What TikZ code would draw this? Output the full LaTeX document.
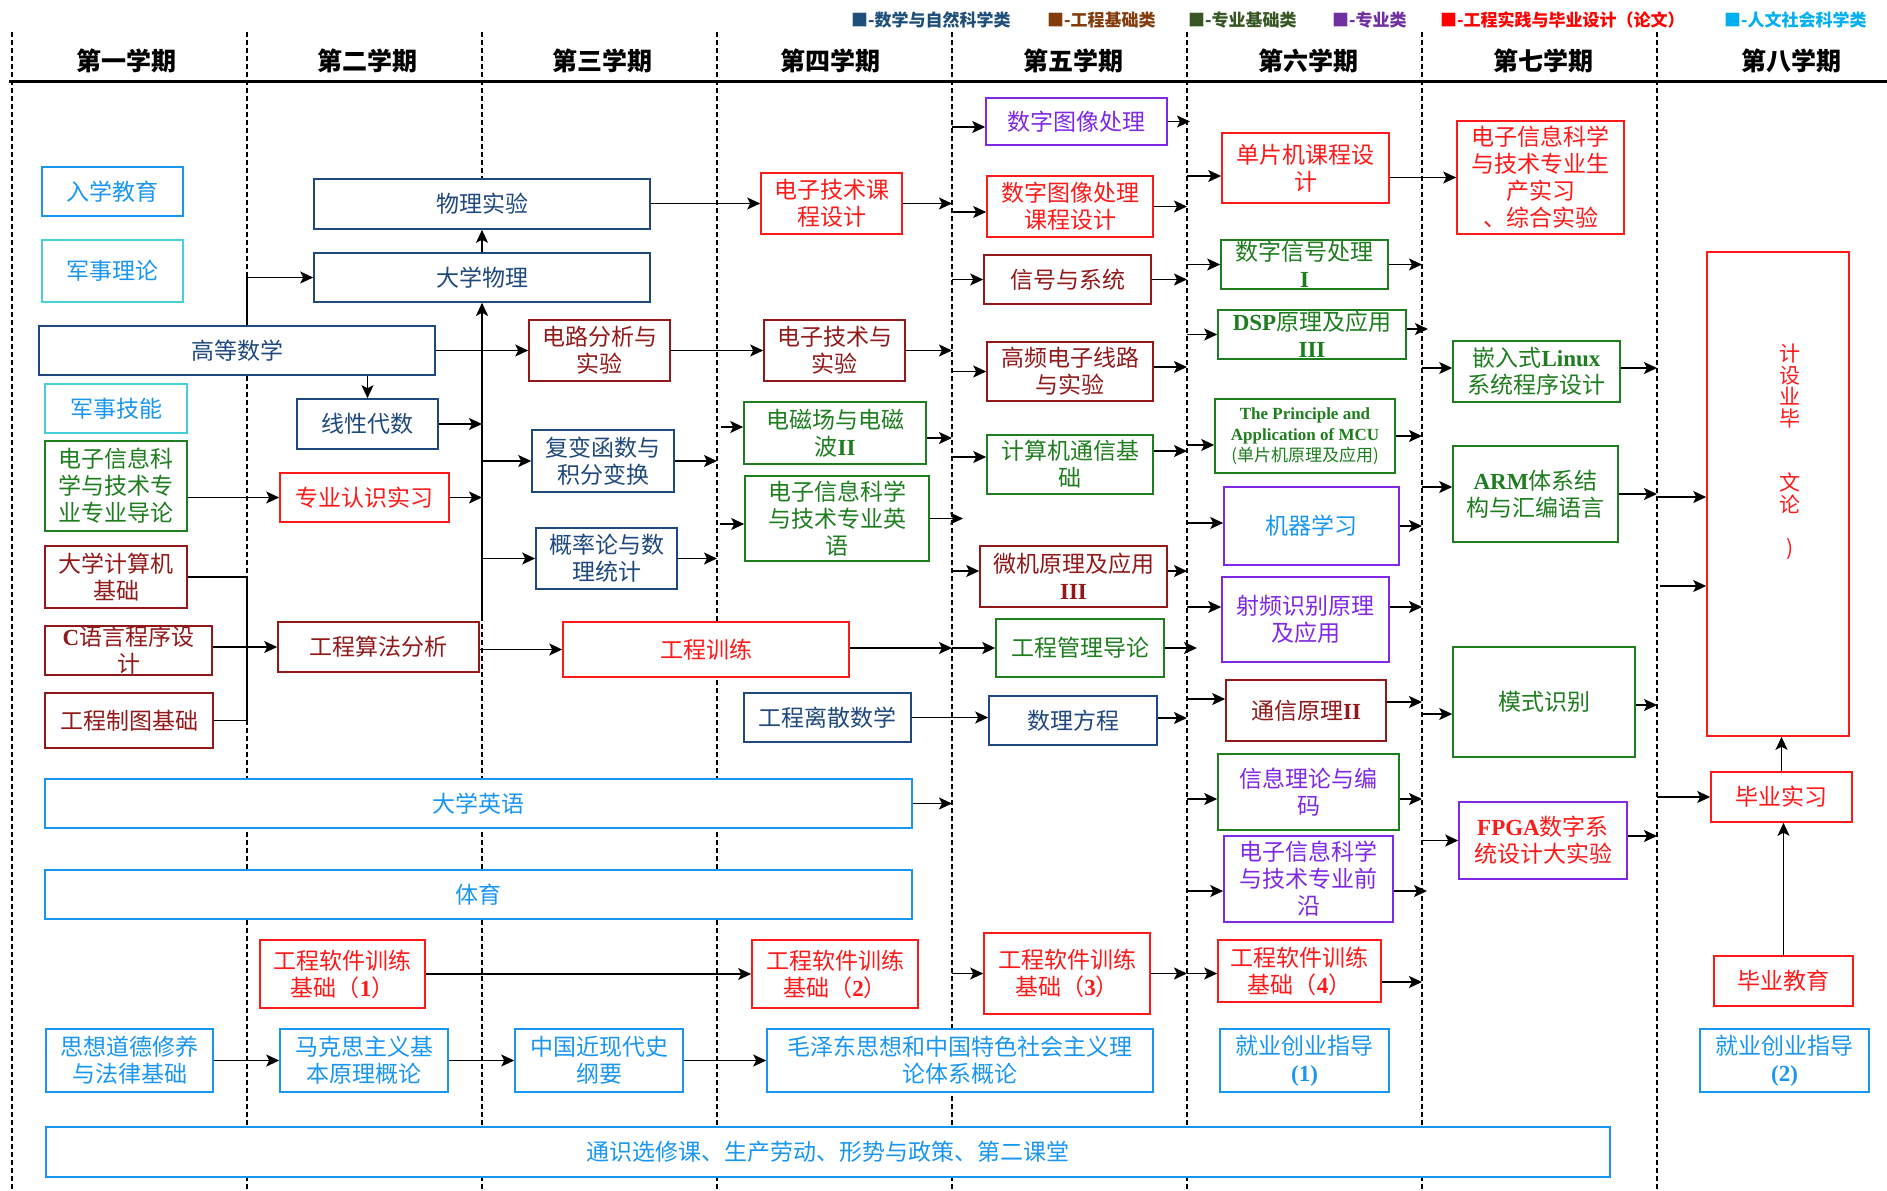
\documentclass[tikz,border=0pt]{standalone}
\usepackage{fontspec}
\setmainfont{Liberation Serif}
\newfontfamily\cjk{Noto Sans CJK SC}
\usetikzlibrary{arrows.meta,calc}
\definecolor{cMath}{RGB}{31,73,125}
\definecolor{cEng}{RGB}{145,25,25}
\definecolor{cGrn}{RGB}{30,125,30}
\definecolor{cPur}{RGB}{128,40,230}
\definecolor{cRed}{RGB}{255,25,25}
\definecolor{cHum}{RGB}{25,150,240}
\definecolor{cMil}{RGB}{70,208,215}
\definecolor{lgMath}{RGB}{31,78,121}
\definecolor{lgEng}{RGB}{132,60,12}
\definecolor{lgGrn}{RGB}{55,86,35}
\definecolor{lgPur}{RGB}{112,48,160}
\definecolor{lgRed}{RGB}{255,0,0}
\definecolor{lgHum}{RGB}{0,176,240}
\newcommand\LB[1]{{\rmfamily\bfseries #1}}
\tikzset{
  box/.style={draw, fill=white, line width=1.6pt, inner sep=0pt, align=center,
    font=\cjk\fontsize{23}{27}\selectfont},
  mth/.style={draw=cMath, text=cMath},
  eng/.style={draw=cEng, text=cEng},
  grn/.style={draw=cGrn, text=cGrn},
  pur/.style={draw=cPur, text=cPur},
  red/.style={draw=cRed, text=cRed},
  hum/.style={draw=cHum, text=cHum},
  mil/.style={draw=cMil, text=cHum},
  arr/.style={line width=1.6pt, -{Stealth[length=13pt,width=12pt,inset=3pt]}},
  ln/.style={line width=1.6pt},
  sepline/.style={line width=2.4pt, dash pattern=on 5pt off 3pt},
  hdr/.style={font=\cjk\bfseries\fontsize{25}{28}\selectfont, inner sep=0pt},
  lgd/.style={font=\cjk\bfseries\fontsize{17}{20}\selectfont, inner sep=0pt, anchor=west},
}
\newcommand\bx[7]{\node[box,#2,minimum width={#5-#3},minimum height={#6-#4}] (#1) at ({(#3+#5)/2},{(#4+#6)/2}) {#7};}
\newcommand\inarr[4]{\path ($(#1.west)+(0,#3)$) coordinate (tmpa); \draw[arr] ($(tmpa -| #2)+(#4,0)$) -- (tmpa);}
\newcommand\outarr[4]{\path ($(#1.east)+(0,#3)$) coordinate (tmpb); \draw[arr] (tmpb) -- ($(tmpb -| #2)+(#4,0)$);}
\begin{document}
\begin{tikzpicture}[x=1pt,y=-1pt]
\useasboundingbox (0,0) rectangle (1887,1191);
\fill[white] (0,0) rectangle (1887,1191);
% separators
\foreach \xx in {12,247,482,717,952,1187,1422,1657} \draw[sepline] (\xx,32) -- (\xx,1191);
\coordinate (L2) at (247,0);
\coordinate (L3) at (482,0);
\coordinate (L4) at (717,0);
\coordinate (L5) at (952,0);
\coordinate (L6) at (1187,0);
\coordinate (L7) at (1422,0);
\coordinate (L8) at (1657,0);
\draw[line width=3pt] (9,81) -- (1887,81);
% legend
\node[lgd,text=lgMath] (lg1) at (851,20) {■-数学与自然科学类};
\node[lgd,text=lgEng] (lg2) at (1047,20) {■-工程基础类};
\node[lgd,text=lgGrn] (lg3) at (1188,20) {■-专业基础类};
\node[lgd,text=lgPur] (lg4) at (1332,20) {■-专业类};
\node[lgd,text=lgRed] (lg5) at (1440,20) {■-工程实践与毕业设计（论文）};
\node[lgd,text=lgHum] (lg6) at (1724,20) {■-人文社会科学类};
% headers
\node[hdr] (h1) at (126,61) {第一学期};
\node[hdr] (h2) at (367,61) {第二学期};
\node[hdr] (h3) at (602,61) {第三学期};
\node[hdr] (h4) at (830,61) {第四学期};
\node[hdr] (h5) at (1073,61) {第五学期};
\node[hdr] (h6) at (1308,61) {第六学期};
\node[hdr] (h7) at (1543,61) {第七学期};
\node[hdr] (h8) at (1791,61) {第八学期};
% column 1
\bx{rxjy}{hum}{42}{167}{183}{216}{入学教育}
\bx{jsll}{mil}{42}{240}{183}{302}{军事理论}
\bx{gdsx}{mth}{39}{326}{435}{375}{高等数学}
\bx{jsjn}{mil}{45}{384}{187}{433}{军事技能}
\bx{zydl}{grn}{45}{441}{187}{531}{电子信息科\\学与技术专\\业专业导论}
\bx{dxjsj}{eng}{45}{546}{187}{608}{大学计算机\\基础}
\bx{cyy}{eng}{45}{626}{212}{675}{\LB{C}语言程序设\\计}
\bx{gczt}{eng}{45}{693}{213}{748}{工程制图基础}
\bx{dxyy}{hum}{45}{779}{912}{828}{大学英语}
\bx{ty}{hum}{45}{870}{912}{919}{体育}
\bx{rj1}{red}{260}{940}{425}{1008}{工程软件训练\\基础（\LB{1}）}
\bx{sx}{hum}{46}{1029}{213}{1092}{思想道德修养\\与法律基础}
\bx{ts}{hum}{46}{1127}{1610}{1177}{通识选修课、生产劳动、形势与政策、第二课堂}
% column 2
\bx{wlsy}{mth}{314}{179}{650}{229}{物理实验}
\bx{dxwl}{mth}{314}{253}{650}{302}{大学物理}
\bx{xxds}{mth}{297}{399}{438}{449}{线性代数}
\bx{zyrs}{red}{280}{473}{449}{522}{专业认识实习}
\bx{gcsf}{eng}{278}{622}{479}{672}{工程算法分析}
\bx{mks}{hum}{280}{1029}{448}{1092}{马克思主义基\\本原理概论}
% column 3
\bx{dlfx}{eng}{529}{320}{670}{381}{电路分析与\\实验}
\bx{fb}{mth}{532}{430}{674}{492}{复变函数与\\积分变换}
\bx{gl}{mth}{536}{528}{677}{589}{概率论与数\\理统计}
\bx{gcxl}{red}{563}{622}{849}{677}{工程训练}
\bx{zgjx}{hum}{515}{1029}{683}{1092}{中国近现代史\\纲要}
% column 4
\bx{dzkc}{red}{761}{173}{902}{234}{电子技术课\\程设计}
\bx{dzjs}{eng}{764}{320}{905}{381}{电子技术与\\实验}
\bx{dcc}{grn}{744}{402}{926}{464}{电磁场与电磁\\波\LB{II}}
\bx{zyyy}{grn}{745}{476}{929}{561}{电子信息科学\\与技术专业英\\语}
\bx{lisan}{mth}{744}{693}{911}{742}{工程离散数学}
\bx{rj2}{red}{752}{940}{918}{1008}{工程软件训练\\基础（\LB{2}）}
\bx{mzd}{hum}{767}{1029}{1153}{1092}{毛泽东思想和中国特色社会主义理\\论体系概论}
% column 5
\bx{sztx}{pur}{986}{98}{1167}{145}{数字图像处理}
\bx{sztxkc}{red}{987}{176}{1153}{237}{数字图像处理\\课程设计}
\bx{xhxt}{eng}{984}{255}{1151}{304}{信号与系统}
\bx{gp}{eng}{987}{342}{1153}{401}{高频电子线路\\与实验}
\bx{jstx}{grn}{987}{435}{1153}{494}{计算机通信基\\础}
\bx{wj}{eng}{980}{546}{1167}{607}{微机原理及应用\\\LB{III}}
\bx{gcgl}{grn}{996}{619}{1164}{677}{工程管理导论}
\bx{slfc}{mth}{989}{696}{1157}{745}{数理方程}
\bx{rj3}{red}{984}{933}{1150}{1014}{工程软件训练\\基础（\LB{3}）}
% column 6
\bx{dpj}{red}{1222}{133}{1389}{203}{单片机课程设\\计}
\bx{szxh}{grn}{1221}{240}{1388}{289}{数字信号处理\\\LB{I}}
\bx{dsp}{grn}{1218}{310}{1406}{359}{\LB{DSP}原理及应用\\\LB{III}}
\bx{mcu}{grn,font=\cjk\fontsize{17}{21}\selectfont}{1215}{399}{1395}{473}{\LB{The Principle and}\\\LB{Application of MCU}\\(单片机原理及应用)}
\bx{jqxx}{draw=cPur,text=cHum}{1224}{487}{1399}{565}{机器学习}
\bx{spsb}{pur}{1222}{577}{1389}{662}{射频识别原理\\及应用}
\bx{txyl}{eng}{1226}{680}{1386}{741}{通信原理\LB{II}}
\bx{xxll}{draw=cGrn,text=cPur}{1218}{754}{1399}{830}{信息理论与编\\码}
\bx{qy}{pur}{1224}{836}{1393}{922}{电子信息科学\\与技术专业前\\沿}
\bx{rj4}{red}{1218}{940}{1381}{1002}{工程软件训练\\基础（\LB{4}）}
\bx{jy1}{hum}{1220}{1029}{1389}{1092}{就业创业指导\\\LB{(1)}}
% column 7
\bx{scsx}{red}{1457}{121}{1624}{234}{电子信息科学\\与技术专业生\\产实习\\、综合实验}
\bx{linux}{grn}{1453}{341}{1620}{402}{嵌入式\LB{Linux}\\系统程序设计}
\bx{arm}{grn}{1453}{446}{1618}{542}{\LB{ARM}体系结\\构与汇编语言}
\bx{mssb}{grn}{1453}{647}{1635}{757}{模式识别}
\bx{fpga}{draw=cPur,text=cRed}{1459}{802}{1627}{879}{\LB{FPGA}数字系\\统设计大实验}
% column 8
\bx{bysj}{red}{1707}{252}{1849}{736}{}
\node[text=cRed, align=center, anchor=north, inner sep=0pt, font=\cjk\fontsize{21}{21.5}\selectfont] (bysjlbl) at (1790,344) {计\\设\\业\\毕\\\mbox{}\\\mbox{}\\文\\论\\\mbox{}\\)};
\bx{bysx}{red}{1711}{772}{1852}{822}{毕业实习}
\bx{byjy}{red}{1714}{956}{1853}{1006}{毕业教育}
\bx{jy2}{hum}{1700}{1029}{1869}{1092}{就业创业指导\\\LB{(2)}}
% ---- connectors: column 1 -> 2
\draw[arr] (gdsx.north -| L2) |- (dxwl.west);
\draw[arr] (gdsx.south -| xxds.north) -- (xxds.north);
\draw[arr] (gdsx.east) -- (dlfx.west);
\draw[arr] (zyrs.west -| zydl.east) -- (zyrs.west);
\draw[ln] (dxjsj.east) -- (dxjsj.east -| L2) -- (gczt.east -| L2) -- (gczt.east);
\draw[arr] (gcsf.west -| cyy.east) -- (gcsf.west);
\coordinate (busb) at (482,617);
\draw[arr, line width=2.4pt] (busb) -- (dxwl.south -| L3);
\draw[arr] (dxwl.north -| L3) -- (wlsy.south -| L3);
\draw[arr] (xxds.east) -- (xxds.east -| L3);
\draw[arr] (zyrs.east) -- (zyrs.east -| L3);
\draw[arr] (fb.west -| L3) -- (fb.west);
\draw[arr] (gl.west -| L3) -- (gl.west);
% column 2 -> 3 -> 4
\draw[arr] (dzkc.west -| wlsy.east) -- (dzkc.west);
\draw[arr] (dlfx.east) -- (dzjs.west);
\draw[arr] (fb.east) -- (fb.east -| L4);
\draw[arr] (gl.east) -- (gl.east -| L4);
\draw[arr] (gcxl.west -| gcsf.east) -- (gcxl.west);
\draw[arr] (rj1.east) -- (rj2.west);
\draw[arr] (sx.east) -- (mks.west);
\draw[arr] (mks.east) -- (zgjx.west);
\draw[arr] (zgjx.east) -- (mzd.west);
% column 4
\inarr{dcc}{L4}{-6}{4}
\inarr{zyyy}{L4}{5.5}{3}
\outarr{dcc}{L5}{5}{0}
\outarr{zyyy}{L5}{0}{11}
\outarr{dzkc}{L5}{0}{0}
\outarr{dzjs}{L5}{0}{0}
\draw[arr] (gcgl.west -| gcxl.east) -- (gcgl.west -| L5);
\draw[arr] (gcgl.west -| L5) -- (gcgl.west);
\draw[arr] (lisan.east) -- (lisan.east -| slfc.west);
\outarr{dxyy}{L5}{0}{0}
\inarr{rj3}{L5}{0}{0}
% column 5
\inarr{sztx}{L5}{5.5}{0}
\inarr{sztxkc}{L5}{5.5}{0}
\inarr{xhxt}{L5}{0}{0}
\inarr{gp}{L5}{0}{0}
\inarr{jstx}{L5}{-7.5}{0}
\inarr{wj}{L5}{-5.5}{0}
\outarr{sztx}{L6}{0}{3}
\outarr{sztxkc}{L6}{0}{0}
\outarr{xhxt}{L6}{0}{0}
\outarr{gp}{L6}{-4.5}{0}
\outarr{jstx}{L6}{-13.5}{0}
\outarr{wj}{L6}{-5.5}{0}
\outarr{gcgl}{L6}{0}{10}
\outarr{slfc}{L6}{-2.5}{0}
\draw[arr] (rj3.east) -- (rj3.east -| L6);
\draw[arr] (rj3.east -| L6) -- (rj3.east -| rj4.west);
% column 6
\inarr{dpj}{L6}{8}{0}
\inarr{szxh}{L6}{0}{0}
\inarr{dsp}{L6}{0}{0}
\inarr{mcu}{L6}{9}{0}
\inarr{jqxx}{L6}{-3}{0}
\inarr{spsb}{L6}{-12.5}{0}
\inarr{txyl}{L6}{-11.5}{0}
\inarr{xxll}{L6}{7}{0}
\inarr{qy}{L6}{12}{0}
\draw[arr] (scsx.west -| dpj.east) -- (scsx.west);
\outarr{szxh}{L7}{0}{0}
\outarr{dsp}{L7}{-5.5}{6}
\outarr{mcu}{L7}{0}{0}
\outarr{jqxx}{L7}{0}{0}
\outarr{spsb}{L7}{-12.5}{0}
\outarr{txyl}{L7}{-8.5}{0}
\outarr{xxll}{L7}{7}{0}
\outarr{qy}{L7}{12}{5}
\outarr{rj4}{L7}{11}{0}
% column 7
\inarr{linux}{L7}{-3.5}{0}
\inarr{arm}{L7}{-7}{0}
\inarr{mssb}{L7}{12}{0}
\inarr{fpga}{L7}{0}{0}
\outarr{linux}{L8}{-3.5}{0}
\outarr{arm}{L8}{0}{0}
\outarr{mssb}{L8}{3}{0}
\outarr{fpga}{L8}{-4.5}{0}
% column 8
\inarr{bysj}{L8}{3}{0}
\inarr{bysj}{L8}{92}{3}
\inarr{bysx}{L8}{0}{0}
\draw[arr] (bysx.north) -- (bysx.north |- bysj.south);
\draw[arr] (byjy.north) -- (byjy.north |- bysx.south);
\end{tikzpicture}
\end{document}
